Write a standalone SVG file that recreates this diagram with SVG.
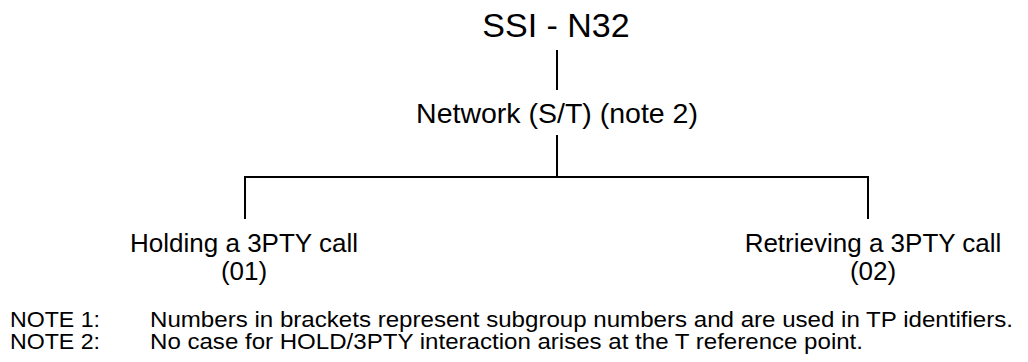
<svg xmlns="http://www.w3.org/2000/svg" width="1028" height="362" viewBox="0 0 1028 362">
<style>
text{font-family:"Liberation Sans",Arial,sans-serif;fill:#000}
.c{text-anchor:middle}
.n{font-size:22px}
.leaf{font-size:26px}
.l{stroke:#000;stroke-width:2;fill:none}
</style>
<rect width="1028" height="362" fill="#fff"/>
<g id="connectors">
<line class="l" x1="557" y1="50" x2="557" y2="90"/>
<line class="l" x1="557" y1="135" x2="557" y2="177"/>
<polyline class="l" points="245,219 245,177 868,177 868,219"/>
</g>
<g id="root"><text class="c" x="556" y="37" font-size="34">SSI - N32</text></g>
<g id="network"><text class="c" x="557" y="123" font-size="28.5">Network (S/T) (note 2)</text></g>
<g id="holding"><text class="c leaf" x="244" y="252">Holding a 3PTY call</text><text class="c leaf" x="244" y="280">(01)</text></g>
<g id="retrieving"><text class="c leaf" x="873" y="252">Retrieving a 3PTY call</text><text class="c leaf" x="873" y="280">(02)</text></g>
<g id="notes">
<text class="n" x="10" y="327" textLength="90" lengthAdjust="spacingAndGlyphs">NOTE 1:</text><text class="n" x="150" y="327" textLength="863" lengthAdjust="spacingAndGlyphs">Numbers in brackets represent subgroup numbers and are used in TP identifiers.</text>
<text class="n" x="10" y="349" textLength="90" lengthAdjust="spacingAndGlyphs">NOTE 2:</text><text class="n" x="150" y="349" textLength="713" lengthAdjust="spacingAndGlyphs">No case for HOLD/3PTY interaction arises at the T reference point.</text>
</g>
</svg>
